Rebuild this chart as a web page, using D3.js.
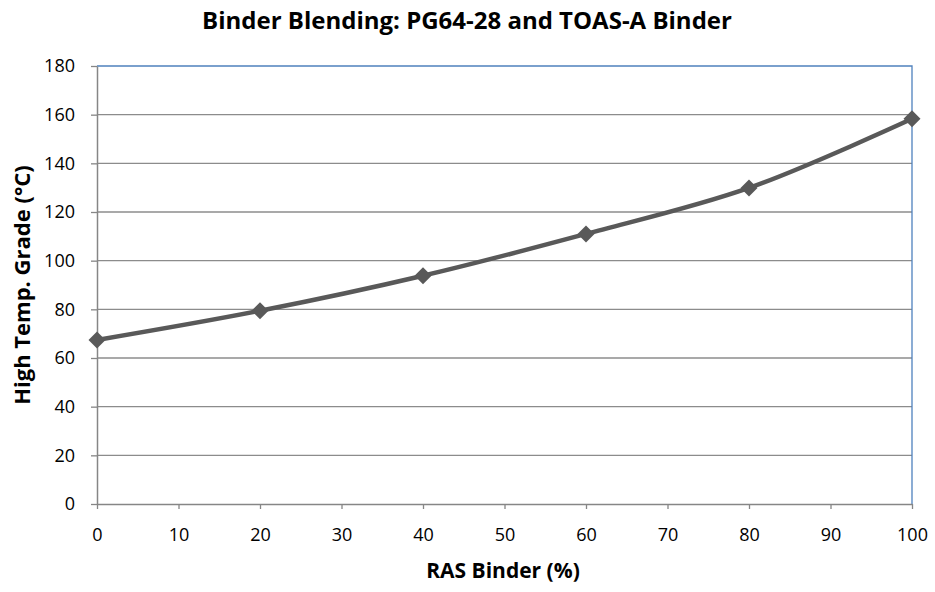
<!DOCTYPE html>
<html>
<head>
<meta charset="utf-8">
<script src="https://cdn.jsdelivr.net/npm/d3@7"></script>
<style>
  body { margin: 0; background: #fff; }
  svg text { font-family: "Open Sans", "Liberation Sans", sans-serif; fill: #000; }
</style>
</head>
<body>
<svg></svg>
<script>
let rasBinder = [0, 20, 40, 60, 80, 100];
let highTempGrade = [67.4, 79.4, 93.8, 111, 129.9, 158.3];
let xTicks = [0, 10, 20, 30, 40, 50, 60, 70, 80, 90, 100];
let yTicks = [0, 20, 40, 60, 80, 100, 120, 140, 160, 180];

let width = 935;
let height = 592;
let plotLeft = 97, plotRight = 912, plotTop = 66, plotBottom = 504;

let svg = d3.select("svg").attr("width", width).attr("height", height);

let xScale = d3.scaleLinear().domain([0, 100]).range([plotLeft, plotRight]);
let yScale = d3.scaleLinear().domain([0, 180]).range([plotBottom, plotTop]);

// gridlines
svg.append("g")
  .selectAll("line")
  .data(yTicks.filter((d) => d > 0 && d < 180))
  .enter()
  .append("line")
  .attr("x1", plotLeft)
  .attr("x2", plotRight)
  .attr("y1", (d) => yScale(d))
  .attr("y2", (d) => yScale(d))
  .attr("stroke", "#8c8c8c")
  .attr("stroke-width", 1.3);

// top and right border (blue)
svg.append("path")
  .attr("d", `M${plotLeft},${plotTop}H${plotRight}V${plotBottom}`)
  .attr("fill", "none")
  .attr("stroke", "#4f81bd")
  .attr("stroke-width", 1.3);

let xAxis = d3.axisBottom(xScale).tickValues(xTicks).tickSize(5).tickPadding(19).tickSizeOuter(0);
let yAxis = d3.axisLeft(yScale).tickValues(yTicks).tickSize(6).tickPadding(16).tickSizeOuter(0);

let gx = svg.append("g")
  .attr("transform", "translate(0," + plotBottom + ")")
  .call(xAxis);
let gy = svg.append("g")
  .attr("transform", "translate(" + plotLeft + ",0)")
  .call(yAxis);

[gx, gy].forEach((g) => {
  g.selectAll(".domain").attr("stroke", "#868686").attr("stroke-width", 1.5);
  g.selectAll(".tick line").attr("stroke", "#868686").attr("stroke-width", 1.3);
  g.selectAll(".tick text").style("font-size", "18px").attr("fill", "#000");
});

let points = rasBinder.map((x, i) => [x, highTempGrade[i]]);

let line = d3.line()
  .x((d) => xScale(d[0]))
  .y((d) => yScale(d[1]))
  .curve(d3.curveCatmullRom.alpha(0.5));

svg.append("path")
  .datum(points)
  .attr("d", line)
  .attr("fill", "none")
  .attr("stroke", "#595959")
  .attr("stroke-width", 4.5);

svg.append("g")
  .selectAll("path")
  .data(points)
  .enter()
  .append("path")
  .attr("d", "M0,-8.5L8.5,0L0,8.5L-8.5,0Z")
  .attr("transform", (d) => "translate(" + xScale(d[0]) + "," + yScale(d[1]) + ")")
  .attr("fill", "#595959");

svg.append("text")
  .attr("x", 467)
  .attr("y", 29)
  .attr("text-anchor", "middle")
  .style("font-size", "24px")
  .style("font-weight", "bold")
  .text("Binder Blending: PG64-28 and TOAS-A Binder");

svg.append("text")
  .attr("x", 503)
  .attr("y", 578)
  .attr("text-anchor", "middle")
  .style("font-size", "21px")
  .style("font-weight", "bold")
  .text("RAS Binder (%)");

svg.append("text")
  .attr("transform", "translate(30," + (plotTop + plotBottom) / 2 + ") rotate(-90)")
  .attr("text-anchor", "middle")
  .style("font-size", "22px")
  .style("font-weight", "bold")
  .text("High Temp. Grade (°C)");
</script>
</body>
</html>
